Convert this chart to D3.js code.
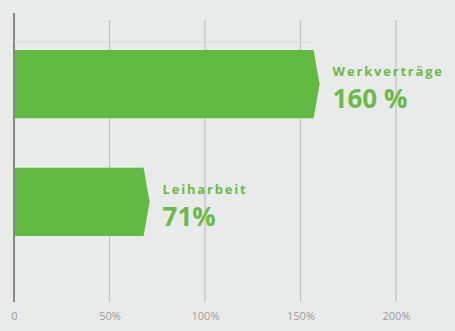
<!DOCTYPE html>
<html><head><meta charset="utf-8">
<script src="https://cdn.jsdelivr.net/npm/d3@7"></script>
<style>body{margin:0;background:#e9ebea;}svg{display:block;}</style>
</head><body><svg id="c" width="455" height="331"></svg>
<script>
const categories = ["Werkverträge", "Leiharbeit"];
const values = [160, 71];
const valueLabels = ["160 %", "71%"];
const tickValues = [0, 50, 100, 150, 200];
const tickLabels = ["0", "50%", "100%", "150%", "200%"];

const svg = d3.select("#c");
svg.append("rect").attr("width",455).attr("height",331).attr("fill","#e9ebea");
const x = d3.scaleLinear().domain([0,200]).range([14,396]);
const y = d3.scaleBand().domain(categories).range([50,236]).paddingInner(0.42).paddingOuter(0);

// grid
svg.append("g").selectAll("line").data(tickValues).join("line")
  .attr("x1",d=>x(d)).attr("x2",d=>x(d)).attr("y1",d=>d===0?13:20).attr("y2",302)
  .attr("stroke",d=>d===0?"#8a8586":"#c4c0c1").attr("stroke-width",d=>d===0?2:1.2);
// faint horizontal line above first bar
svg.append("line").attr("x1",x(0)).attr("x2",x(values[0])-8).attr("y1",42).attr("y2",42)
  .attr("stroke","#d9d6d7").attr("stroke-width",1);

// axis labels
const ax = d3.axisBottom(x).tickValues(tickValues).tickFormat((d,i)=>tickLabels[i]).tickSize(0).tickPadding(0);
const g = svg.append("g").attr("transform","translate(0,312)").call(ax);
g.select(".domain").remove();
g.selectAll("text").attr("fill","#9c9c9c").attr("font-family","Open Sans, sans-serif").attr("font-size",11).attr("dy","0.7em");

// bars with arrow tip
const bh = y.bandwidth();
svg.append("g").selectAll("path").data(values).join("path")
  .attr("d",(d,i)=>{
    const y0=y(categories[i]), x0=x(0)+1, x1=x(d);
    const tip=6;
    return `M${x0},${y0}L${x1-tip},${y0}L${x1},${y0+bh/2}L${x1-tip},${y0+bh}L${x0},${y0+bh}Z`;
  }).attr("fill","#63ba43");

// labels
const lab = svg.append("g").selectAll("g").data(values).join("g")
  .attr("transform",(d,i)=>`translate(${x(d)+13},${y(categories[i])})`);
lab.append("text").text((d,i)=>categories[i]).attr("y",26)
  .attr("fill","#6cb94a").attr("font-family","Open Sans, sans-serif").attr("font-weight","bold")
  .attr("font-size",13).attr("letter-spacing",1.8);
lab.append("text").text((d,i)=>valueLabels[i]).attr("y",58)
  .attr("fill","#6cb94a").attr("font-family","Open Sans, sans-serif").attr("font-weight","bold").attr("font-size",26);
</script></body></html>
